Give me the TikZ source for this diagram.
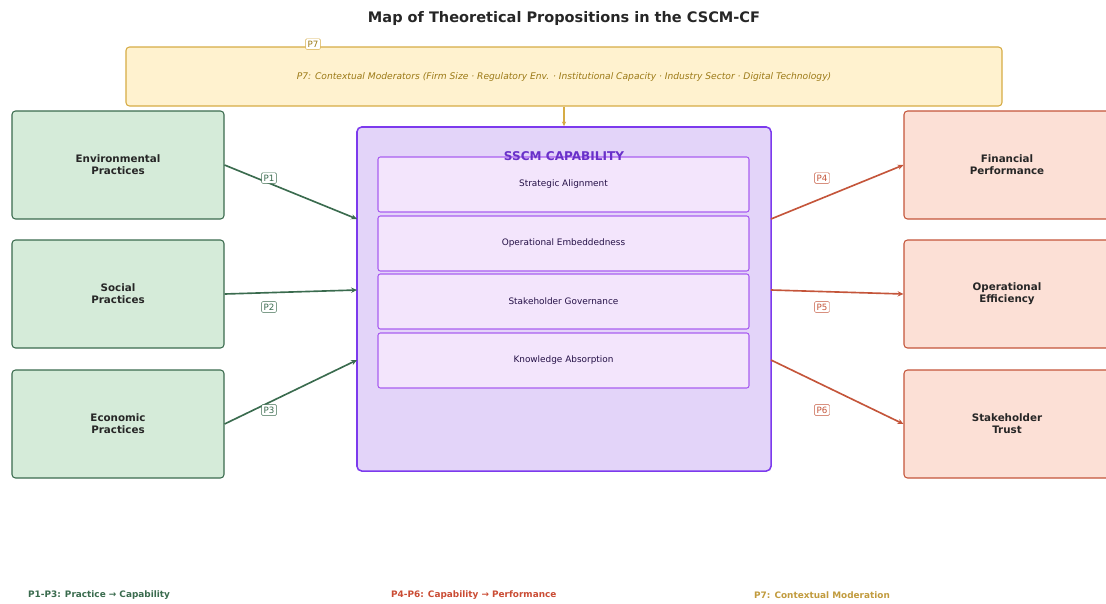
\documentclass[tikz,border=0pt]{standalone}
\usepackage{fontspec}
\setmainfont{DejaVu Sans}
\usetikzlibrary{arrows.meta}
\definecolor{grnfill}{HTML}{D5EBD9}
\definecolor{grnline}{HTML}{3A6B4E}
\definecolor{redfill}{HTML}{FCE0D6}
\definecolor{redline}{HTML}{C4553A}
\definecolor{capfill}{HTML}{E3D4F9}
\definecolor{capline}{HTML}{7C3AED}
\definecolor{subfill}{HTML}{F3E5FC}
\definecolor{subline}{HTML}{A95EF0}
\definecolor{modfill}{HTML}{FFF2CF}
\definecolor{modline}{HTML}{D6AC45}
\definecolor{modtext}{HTML}{9C7A17}
\begin{document}
\begin{tikzpicture}[x=0.03cm,y=-0.03cm,
  practice/.style={draw=grnline,fill=grnfill,line width=0.9pt,rounded corners=3pt,
    minimum width=6.36cm,minimum height=3.24cm,align=center,
    font=\fontsize{8.8}{10.3}\selectfont\bfseries,text=black!85},
  outcome/.style={draw=redline,fill=redfill,line width=0.9pt,rounded corners=3pt,
    minimum width=6.18cm,minimum height=3.24cm,align=center,
    font=\fontsize{8.8}{10.3}\selectfont\bfseries,text=black!85},
  dimbox/.style={draw=subline,fill=subfill,line width=0.9pt,rounded corners=2pt,
    minimum width=11.13cm,minimum height=1.65cm,
    font=\fontsize{7.6}{9}\selectfont,text=black!70!capline},
  plabel/.style={draw=#1,fill=white,text=#1,inner sep=1.8pt,rounded corners=1pt,
    font=\fontsize{7.4}{8}\selectfont},
  legend/.style={anchor=west,font=\fontsize{7.6}{8}\selectfont\bfseries},
  greenarrow/.style={draw=grnline,line width=1.4pt,-{Stealth[length=5pt,width=4.5pt]}},
  redarrow/.style={draw=redline,line width=1.4pt,-{Stealth[length=5pt,width=4.5pt]}}]
\useasboundingbox (0,0) rectangle (1106,603);
\node[font=\fontsize{12.4}{14}\selectfont\bfseries,text=black!85] (title) at (564,18)
  {Map of Theoretical Propositions in the CSCM-CF};
\node[draw=modline,fill=modfill,line width=0.9pt,rounded corners=3pt,
  minimum width=26.28cm,minimum height=1.77cm,text=modtext,
  font=\fontsize{7.8}{9}\selectfont\itshape] (mod) at (564,76.5)
  {P7: Contextual Moderators (Firm Size · Regulatory Env. · Institutional Capacity · Industry Sector · Digital Technology)};
\node[plabel=modline,text=modtext] (p7) at (313,44) {P7};
\node[draw=capline,fill=capfill,line width=1.3pt,rounded corners=4pt,
  minimum width=12.42cm,minimum height=10.32cm] (cap) at (564,299) {};
\node[dimbox] (strat) at (563.5,184.5) {Strategic Alignment};
\node[dimbox] (embed) at (563.5,243.5) {Operational Embeddedness};
\node[dimbox] (gov) at (563.5,301.5) {Stakeholder Governance};
\node[dimbox] (know) at (563.5,360.5) {Knowledge Absorption};
\node[font=\fontsize{10.3}{12}\selectfont\bfseries,text=capline!85!black] (captitle) at (564,156)
  {SSCM CAPABILITY};
\draw[draw=modline,line width=1.3pt,-{Stealth[length=4pt,width=3.5pt]}] (mod.south) -- (cap.north);
\node[practice] (env) at (118,165) {Environmental\\Practices};
\node[practice] (soc) at (118,294) {Social\\Practices};
\node[practice] (eco) at (118,424) {Economic\\Practices};
\node[outcome] (fin) at (1007,165) {Financial\\Performance};
\node[outcome] (eff) at (1007,294) {Operational\\Efficiency};
\node[outcome] (trust) at (1007,424) {Stakeholder\\Trust};
\coordinate (in1) at (357,219);
\coordinate (in2) at (357,290);
\coordinate (in3) at (357,360);
\coordinate (out1) at (771,219);
\coordinate (out2) at (771,290);
\coordinate (out3) at (771,360);
\draw[greenarrow] (env.east) -- (in1);
\draw[greenarrow] (soc.east) -- (in2);
\draw[greenarrow] (eco.east) -- (in3);
\draw[redarrow] (out1) -- (fin.west);
\draw[redarrow] (out2) -- (eff.west);
\draw[redarrow] (out3) -- (trust.west);
\node[plabel=grnline] (p1) at (269,178) {P1};
\node[plabel=grnline] (p2) at (269,307) {P2};
\node[plabel=grnline] (p3) at (269,410) {P3};
\node[plabel=redline] (p4) at (822,178) {P4};
\node[plabel=redline] (p5) at (822,307) {P5};
\node[plabel=redline] (p6) at (822,410) {P6};
\node[legend,text=grnline] (leg1) at (24,595) {P1-P3: Practice → Capability};
\node[legend,text=redline!90!red] (leg2) at (387,595) {P4-P6: Capability → Performance};
\node[legend,text=modline!90!black] (leg3) at (750,595) {P7: Contextual Moderation};
\end{tikzpicture}
\end{document}
